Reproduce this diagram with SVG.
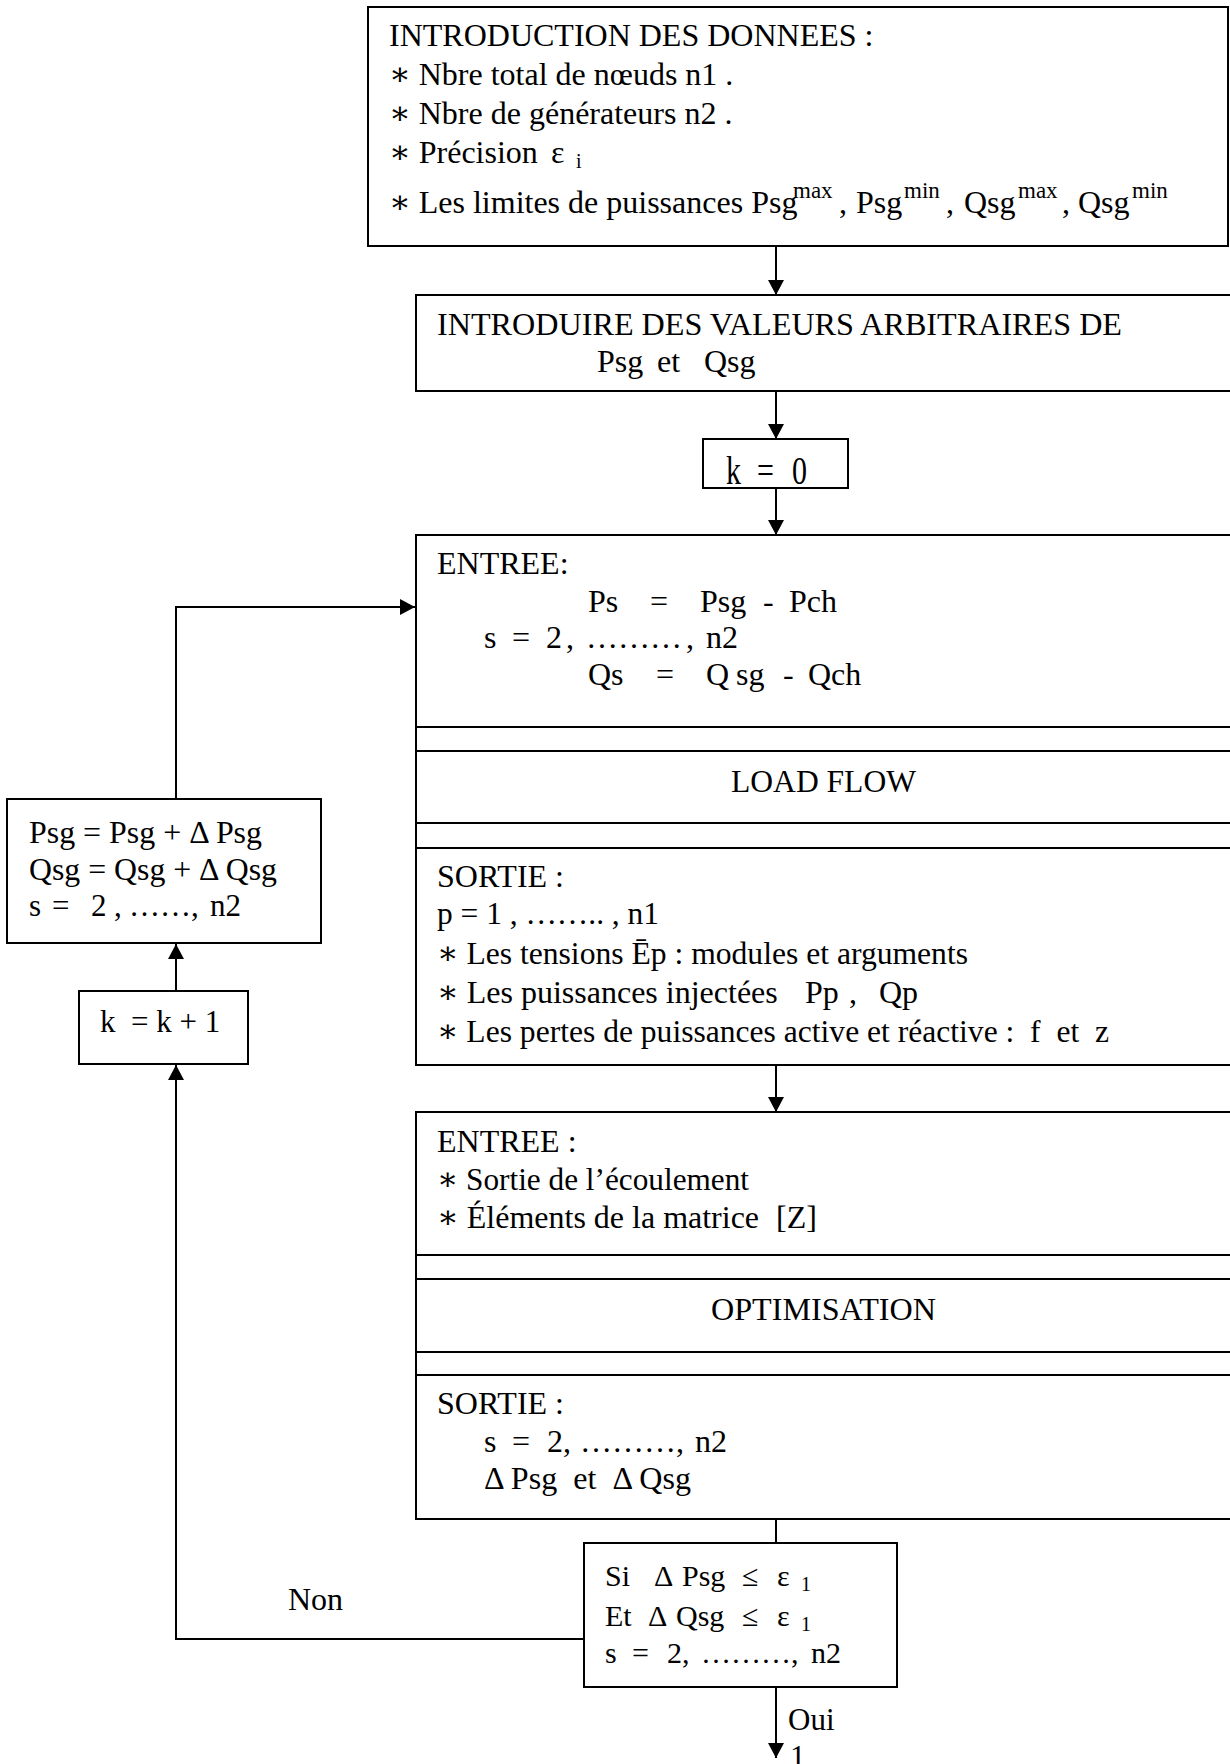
<svg xmlns="http://www.w3.org/2000/svg" width="1230" height="1764" viewBox="0 0 1230 1764" xml:space="preserve">
<defs>
<style>
text{font-family:"Liberation Serif","Times New Roman","DejaVu Serif",serif;font-size:32px;fill:#000;white-space:pre}
.f31{font-size:31px}
.f30{font-size:30px}
.sup{font-size:23px}
.sub{font-size:20px}
.box{fill:#fff;stroke:#000;stroke-width:2}
.sep{stroke:#000;stroke-width:2}
.ln{fill:none;stroke:#000;stroke-width:2}
.arr{marker-end:url(#ah)}
</style>
<marker id="ah" markerUnits="userSpaceOnUse" markerWidth="16" markerHeight="16" refX="15" refY="8" orient="auto"><path d="M0,0 L15,8 L0,16 Z" fill="#000"/></marker>
</defs>
<rect width="1230" height="1764" fill="#fff"/>

<g id="connectors">
<path class="ln arr" d="M776,246 V295"/>
<path class="ln arr" d="M776,391 V439"/>
<path class="ln arr" d="M776,488 V535"/>
<path class="ln arr" d="M776,1065 V1112"/>
<path class="ln" d="M776,1519 V1543"/>
<path class="ln arr" d="M776,1687 V1758"/>
<path class="ln arr" d="M584,1639 H176 V1065"/>
<path class="ln arr" d="M176,991 V944"/>
<path class="ln arr" d="M176,799 V607 H415"/>
<text x="288" y="1610">Non</text>
<text class="f31" x="788" y="1730">Oui</text>
<text class="f31" x="790" y="1767">1</text>
</g>

<g id="n-intro">
<rect class="box" x="368" y="7" width="860" height="239"/>
<text x="389" y="46">INTRODUCTION DES DONNEES :</text>
<text x="389" y="85">∗ Nbre total de nœuds n1 .</text>
<text x="389" y="124">∗ Nbre de générateurs n2 .</text>
<text x="389" y="163">∗ Précision<tspan x="551">ε</tspan><tspan class="sub" x="576" y="168">i</tspan></text>
<text x="389" y="213">∗ Les limites de puissances Psg<tspan class="sup" x="793" y="198">max</tspan><tspan x="839" y="213">,</tspan><tspan x="856">Psg</tspan><tspan class="sup" x="904" y="198">min</tspan><tspan x="946" y="213">,</tspan><tspan x="964">Qsg</tspan><tspan class="sup" x="1018" y="198">max</tspan><tspan x="1062" y="213">,</tspan><tspan x="1078">Qsg</tspan><tspan class="sup" x="1132" y="198">min</tspan></text>
</g>

<g id="n-init">
<rect class="box" x="416" y="295" width="830" height="96"/>
<text x="437" y="335" textLength="685" lengthAdjust="spacingAndGlyphs">INTRODUIRE DES VALEURS ARBITRAIRES DE</text>
<text y="372"><tspan x="597">Psg</tspan><tspan x="657">et</tspan><tspan x="704">Qsg</tspan></text>
</g>

<g id="n-k0">
<rect class="box" x="703" y="439" width="145" height="49"/>
<text class="f30" transform="translate(726,484) scale(1,1.3)" x="0" y="0"><tspan x="0">k</tspan><tspan x="31">=</tspan><tspan x="66">0</tspan></text>
</g>

<g id="n-loadflow">
<rect class="box" x="416" y="535" width="830" height="530"/>
<line class="sep" x1="416" y1="727" x2="1246" y2="727"/>
<line class="sep" x1="416" y1="751" x2="1246" y2="751"/>
<line class="sep" x1="416" y1="823" x2="1246" y2="823"/>
<line class="sep" x1="416" y1="848" x2="1246" y2="848"/>
<text x="437" y="574">ENTREE:</text>
<text y="612"><tspan x="588">Ps</tspan><tspan x="650">=</tspan><tspan x="700">Psg</tspan><tspan x="763">-</tspan><tspan x="789">Pch</tspan></text>
<text y="648"><tspan x="484">s</tspan><tspan x="512">=</tspan><tspan x="546">2</tspan><tspan x="566">,</tspan><tspan x="586">………</tspan><tspan x="686">,</tspan><tspan x="706">n2</tspan></text>
<text y="685"><tspan x="588">Qs</tspan><tspan x="656">=</tspan><tspan x="706">Q</tspan><tspan x="736">sg</tspan><tspan x="783">-</tspan><tspan x="808">Qch</tspan></text>
<text x="731" y="792" textLength="185" lengthAdjust="spacingAndGlyphs">LOAD FLOW</text>
<text x="437" y="887">SORTIE :</text>
<text x="437" y="924" textLength="222" lengthAdjust="spacingAndGlyphs">p = 1 , …….. , n1</text>
<text x="437" y="964" textLength="531" lengthAdjust="spacingAndGlyphs">∗ Les tensions Ēp : modules et arguments</text>
<text y="1003"><tspan x="437">∗ Les puissances injectées</tspan><tspan x="805">Pp</tspan><tspan x="849">,</tspan><tspan x="879">Qp</tspan></text>
<text x="437" y="1042" textLength="672" lengthAdjust="spacingAndGlyphs">∗ Les pertes de puissances active et réactive :  f  et  z</text>
</g>

<g id="n-optim">
<rect class="box" x="416" y="1112" width="830" height="407"/>
<line class="sep" x1="416" y1="1255" x2="1246" y2="1255"/>
<line class="sep" x1="416" y1="1279" x2="1246" y2="1279"/>
<line class="sep" x1="416" y1="1352" x2="1246" y2="1352"/>
<line class="sep" x1="416" y1="1375" x2="1246" y2="1375"/>
<text x="437" y="1152">ENTREE :</text>
<text x="437" y="1190" textLength="312" lengthAdjust="spacingAndGlyphs">∗ Sortie de l’écoulement</text>
<text y="1228"><tspan x="437">∗ Éléments de la matrice</tspan><tspan x="776">[Z]</tspan></text>
<text x="711" y="1320" textLength="225" lengthAdjust="spacingAndGlyphs">OPTIMISATION</text>
<text x="437" y="1414">SORTIE :</text>
<text y="1452"><tspan x="484">s</tspan><tspan x="512">=</tspan><tspan x="547">2,</tspan><tspan x="580">………,</tspan><tspan x="695">n2</tspan></text>
<text x="484" y="1489" textLength="207" lengthAdjust="spacingAndGlyphs">Δ Psg  et  Δ Qsg</text>
</g>

<g id="n-test">
<rect class="box" x="584" y="1543" width="313" height="144"/>
<text class="f30" y="1586"><tspan x="605">Si</tspan><tspan x="654">Δ</tspan><tspan x="682">Psg</tspan><tspan x="742">≤</tspan><tspan x="777">ε</tspan><tspan class="sub" x="801" y="1591">1</tspan></text>
<text class="f30" y="1626"><tspan x="605">Et</tspan><tspan x="648">Δ</tspan><tspan x="676">Qsg</tspan><tspan x="742">≤</tspan><tspan x="777">ε</tspan><tspan class="sub" x="801" y="1631">1</tspan></text>
<text class="f30" y="1663"><tspan x="605">s</tspan><tspan x="632">=</tspan><tspan x="667">2,</tspan><tspan x="701">………,</tspan><tspan x="811">n2</tspan></text>
</g>

<g id="n-update">
<rect class="box" x="7" y="799" width="314" height="144"/>
<text class="f31" x="29" y="843" textLength="233" lengthAdjust="spacingAndGlyphs">Psg = Psg + Δ Psg</text>
<text class="f31" x="29" y="880" textLength="248" lengthAdjust="spacingAndGlyphs">Qsg = Qsg + Δ Qsg</text>
<text class="f31" y="916"><tspan x="29">s</tspan><tspan x="52">=</tspan><tspan x="91">2</tspan><tspan x="114">,</tspan><tspan x="129">……,</tspan><tspan x="210">n2</tspan></text>
</g>

<g id="n-kinc">
<rect class="box" x="79" y="991" width="169" height="73"/>
<text class="f31" x="100" y="1032">k  = k + 1</text>
</g>
</svg>
